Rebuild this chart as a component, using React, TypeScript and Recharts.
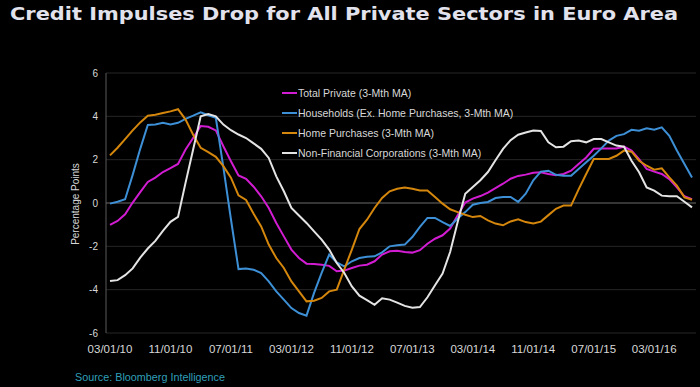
import React from 'react';
import { LineChart, Line, XAxis, YAxis, CartesianGrid, ReferenceLine, Legend } from 'recharts';

const months: string[] = [
  '03/01/10','04/01/10','05/01/10','06/01/10','07/01/10','08/01/10','09/01/10','10/01/10','11/01/10','12/01/10',
  '01/01/11','02/01/11','03/01/11','04/01/11','05/01/11','06/01/11','07/01/11','08/01/11','09/01/11','10/01/11','11/01/11','12/01/11',
  '01/01/12','02/01/12','03/01/12','04/01/12','05/01/12','06/01/12','07/01/12','08/01/12','09/01/12','10/01/12','11/01/12','12/01/12',
  '01/01/13','02/01/13','03/01/13','04/01/13','05/01/13','06/01/13','07/01/13','08/01/13','09/01/13','10/01/13','11/01/13','12/01/13',
  '01/01/14','02/01/14','03/01/14','04/01/14','05/01/14','06/01/14','07/01/14','08/01/14','09/01/14','10/01/14','11/01/14','12/01/14',
  '01/01/15','02/01/15','03/01/15','04/01/15','05/01/15','06/01/15','07/01/15','08/01/15','09/01/15','10/01/15','11/01/15','12/01/15',
  '01/01/16','02/01/16','03/01/16','04/01/16','05/01/16','06/01/16','07/01/16','08/01/16',
];

const totalPrivate: number[] = [
  -1.01, -0.83, -0.52, 0.02, 0.5, 0.97, 1.17, 1.43, 1.61, 1.8,
  2.47, 3.0, 3.55, 3.52, 3.35, 2.62, 1.93, 1.27, 1.12, 0.75,
  0.31, -0.23, -0.92, -1.54, -2.15, -2.54, -2.8, -2.82, -2.85, -2.9,
  -3.15, -3.12, -3.0, -2.89, -2.85, -2.69, -2.38, -2.23, -2.2, -2.26,
  -2.29, -2.18, -1.88, -1.65, -1.49, -1.18, -0.57, 0.02, 0.2, 0.32,
  0.48, 0.69, 0.89, 1.12, 1.25, 1.31, 1.4, 1.42, 1.34, 1.28,
  1.34, 1.49, 1.8, 2.1, 2.5, 2.52, 2.52, 2.52, 2.6, 2.42,
  2.03, 1.57, 1.45, 1.34, 1.1, 0.72, 0.31, 0.18,
];

const households: number[] = [
  -0.03, 0.06, 0.17, 1.3, 2.5, 3.6, 3.62, 3.7, 3.62, 3.7,
  3.88, 4.03, 4.19, 4.05, 3.93, 1.64, -0.75, -3.05, -3.02, -3.08,
  -3.23, -3.62, -4.08, -4.46, -4.85, -5.08, -5.2, -4.15, -3.23, -2.38,
  -2.74, -2.92, -2.69, -2.54, -2.48, -2.46, -2.28, -2.0, -1.95, -1.92,
  -1.57, -1.1, -0.69, -0.69, -0.88, -1.06, -0.72, -0.42, -0.08, 0.0,
  0.05, 0.23, 0.28, 0.28, 0.05, 0.43, 1.05, 1.45, 1.49, 1.3,
  1.26, 1.26, 1.57, 1.88, 2.18, 2.52, 2.88, 3.1, 3.18, 3.38,
  3.34, 3.45, 3.38, 3.49, 3.1, 2.42, 1.8, 1.18,
];

const homePurchases: number[] = [
  2.2, 2.55, 2.95, 3.35, 3.72, 4.03, 4.07, 4.15, 4.23, 4.33,
  3.85, 3.15, 2.55, 2.35, 2.13, 1.7, 1.17, 0.35, 0.14, -0.5,
  -1.08, -1.92, -2.54, -3.0, -3.62, -4.08, -4.54, -4.51, -4.38, -4.08,
  -4.0, -3.06, -2.15, -1.2, -0.77, -0.23, 0.23, 0.54, 0.66, 0.71,
  0.66, 0.58, 0.58, 0.28, -0.03, -0.29, -0.42, -0.54, -0.65, -0.6,
  -0.8, -0.95, -1.03, -0.85, -0.75, -0.88, -0.95, -0.86, -0.56, -0.27,
  -0.12, -0.12, 0.63, 1.34, 2.03, 2.03, 2.03, 2.18, 2.42, 2.37,
  1.95, 1.72, 1.54, 1.6, 1.18, 0.8, 0.26, 0.15,
];

const nonFinancial: number[] = [
  -3.6, -3.56, -3.33, -3.02, -2.52, -2.1, -1.75, -1.29, -0.87, -0.64,
  0.94, 2.47, 4.0, 4.11, 4.0, 3.62, 3.36, 3.16, 3.0, 2.75,
  2.5, 2.08, 1.23, 0.54, -0.23, -0.58, -0.92, -1.31, -1.69, -2.15,
  -2.77, -3.23, -3.85, -4.28, -4.48, -4.7, -4.4, -4.46, -4.6, -4.75,
  -4.83, -4.8, -4.35, -3.8, -3.26, -2.26, -0.88, 0.43, 0.74, 1.05,
  1.43, 1.97, 2.5, 2.9, 3.15, 3.25, 3.35, 3.32, 2.8, 2.57,
  2.6, 2.85, 2.88, 2.8, 2.95, 2.95, 2.8, 2.65, 2.6, 1.95,
  1.42, 0.72, 0.57, 0.34, 0.31, 0.31, 0.06, -0.2,
];

const yTicks: number[] = [-6, -4, -2, 0, 2, 4, 6];

const seriesInfo = [
  { key: 'total', name: 'Total Private (3-Mth MA)', color: '#d21cd2' },
  { key: 'households', name: 'Households (Ex. Home Purchases, 3-Mth MA)', color: '#3d8fd6' },
  { key: 'home', name: 'Home Purchases (3-Mth MA)', color: '#d4870c' },
  { key: 'nfc', name: 'Non-Financial Corporations (3-Mth MA)', color: '#e4e4e4' },
];

const data = months.map((d, i) => ({
  date: d,
  total: totalPrivate[i],
  households: households[i],
  home: homePurchases[i],
  nfc: nonFinancial[i],
}));

const FONT = '"Liberation Sans", Arial, sans-serif';

const LegendContent = () => (
  <div style={{ fontFamily: FONT, fontSize: 10.5, color: '#d8d8d8' }}>
    {seriesInfo.map((s) => (
      <div key={s.key} style={{ height: 20, display: 'flex', alignItems: 'center', whiteSpace: 'nowrap' }}>
        <span style={{ display: 'inline-block', width: 15, height: 2, background: s.color, marginRight: 1 }} />
        <span>{s.name}</span>
      </div>
    ))}
  </div>
);

export default function App() {
  return (
    <div style={{ position: 'absolute', left: 0, top: 0, width: 700, height: 387, background: '#000', overflow: 'hidden' }}>
      <LineChart
        width={700}
        height={387}
        data={data}
        margin={{ top: 73, right: 4, bottom: 24, left: 66 }}
        style={{ position: 'absolute', left: 0, top: 0 }}
      >
        <CartesianGrid vertical={false} stroke="#262626" strokeWidth={1} />
        <XAxis
          dataKey="date"
          interval={7}
          padding={{ left: 4, right: 4 }}
          axisLine={false}
          tickLine={false}
          tickMargin={6}
          height={30}
          tick={{ fill: '#d8d8d8', fontSize: 11.5, fontFamily: FONT }}
        />
        <YAxis
          width={40}
          domain={[-6, 6]}
          ticks={yTicks}
          interval={0}
          axisLine={{ stroke: '#5a5a5a' }}
          tickLine={false}
          tick={{ fill: '#d8d8d8', fontSize: 10, fontFamily: FONT }}
        />
        <ReferenceLine y={0} stroke="#5a5a5a" strokeWidth={1} />
        <Legend
          layout="vertical"
          align="center"
          verticalAlign="middle"
          content={<LegendContent />}
          wrapperStyle={{ left: 282, top: 83, width: 300 }}
        />
        {seriesInfo.map((s) => (
          <Line
            key={s.key}
            type="linear"
            dataKey={s.key}
            name={s.name}
            stroke={s.color}
            strokeWidth={2}
            dot={false}
            isAnimationActive={false}
          />
        ))}
      </LineChart>
      <svg width={700} height={387} style={{ position: 'absolute', left: 0, top: 0, pointerEvents: 'none' }}>
        <text
          x={10}
          y={19.5}
          fill="#e2e2ec"
          fontFamily='"DejaVu Sans", Verdana, sans-serif'
          fontWeight="bold"
          fontSize={18}
          textLength={668}
          lengthAdjust="spacingAndGlyphs"
        >
          Credit Impulses Drop for All Private Sectors in Euro Area
        </text>
        <text
          x={0}
          y={0}
          transform="translate(79,204) rotate(-90)"
          textAnchor="middle"
          fill="#d8d8d8"
          fontFamily={FONT}
          fontSize={10}
        >
          Percentage Points
        </text>
        <text
          x={75}
          y={381}
          fill="#2f9fb8"
          fontFamily={FONT}
          fontSize={10}
          textLength={150}
          lengthAdjust="spacingAndGlyphs"
        >
          Source: Bloomberg Intelligence
        </text>
      </svg>
    </div>
  );
}
